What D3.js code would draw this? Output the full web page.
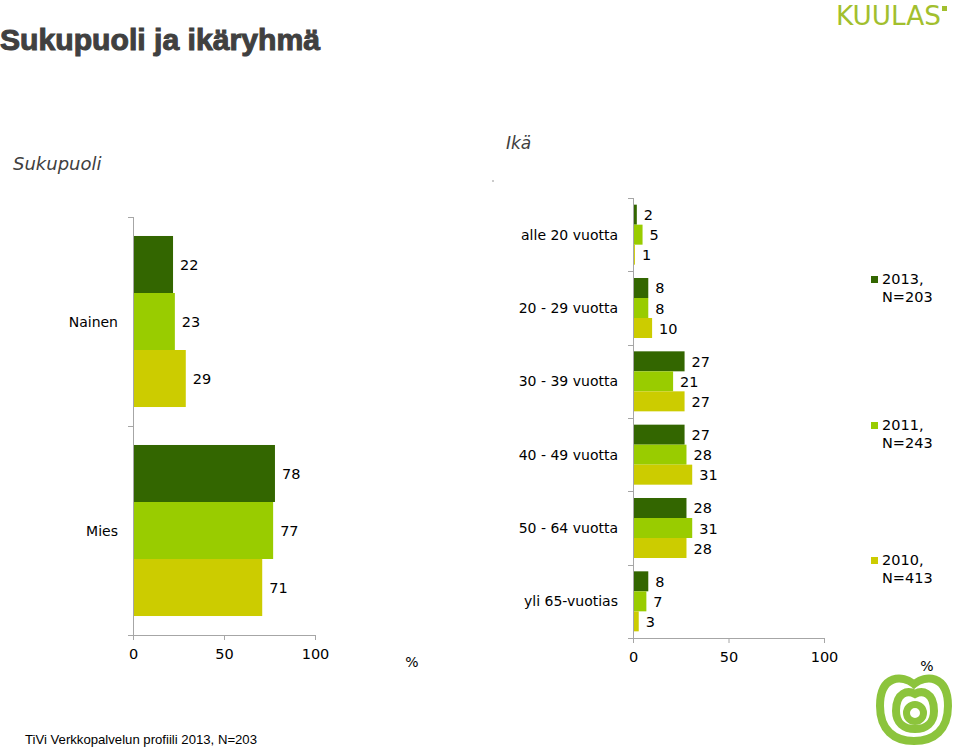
<!DOCTYPE html>
<html>
<head>
<meta charset="utf-8">
<script src="https://cdn.jsdelivr.net/npm/d3@7"></script>
<style>
  html, body { margin: 0; padding: 0; background: #fff; }
  svg { display: block; }
  text { font-family: "DejaVu Sans", Verdana, sans-serif; }
</style>
</head>
<body>
<div id="chart"></div>
<script>
// ---- data ----
const sexCategories = ["Nainen", "Mies"];
const ageCategories = ["alle 20 vuotta", "20 - 29 vuotta", "30 - 39 vuotta", "40 - 49 vuotta", "50 - 64 vuotta", "yli 65-vuotias"];
const seriesNames = ["2013, N=203", "2011, N=243", "2010, N=413"];
const seriesColors = ["#336600", "#99cc00", "#cccc00"];
const sex2013 = [22, 78];
const sex2011 = [23, 77];
const sex2010 = [29, 71];
const age2013 = [2, 8, 27, 27, 28, 8];
const age2011 = [5, 8, 21, 28, 31, 7];
const age2010 = [1, 10, 27, 31, 28, 3];
const xTickValues = [0, 50, 100];

const W = 960, H = 755;
const svg = d3.select("#chart").append("svg").attr("width", W).attr("height", H);

// ---- headings ----
svg.append("text").attr("x", 0).attr("y", 50)
  .style("font-family", "'Liberation Sans', Arial, sans-serif")
  .style("font-weight", "bold").style("font-size", "29px")
  .attr("fill", "#404040").attr("stroke", "#404040").attr("stroke-width", 1)
  .attr("textLength", 320).attr("lengthAdjust", "spacingAndGlyphs")
  .text("Sukupuoli ja ikäryhmä");

svg.append("text").attr("x", 13).attr("y", 170)
  .style("font-style", "italic").style("font-size", "18px").attr("fill", "#404040")
  .text("Sukupuoli");
svg.append("text").attr("x", 506).attr("y", 149)
  .style("font-style", "italic").style("font-size", "17px").attr("fill", "#404040")
  .text("Ikä");
svg.append("circle").attr("cx", 493).attr("cy", 181).attr("r", 0.8).attr("fill", "#888");

// KUULAS logo
svg.append("text").attr("x", 836).attr("y", 25)
  .style("font-family", "'DejaVu Sans', sans-serif").style("font-size", "26px")
  .attr("fill", "#a2bf2e").attr("textLength", 105).attr("lengthAdjust", "spacingAndGlyphs")
  .text("KUULAS");
svg.append("rect").attr("x", 942).attr("y", 6).attr("width", 5).attr("height", 5).attr("fill", "#a2bf2e");

// ---- chart builder ----
function drawChart(opts) {
  const { cats, series, xRange, yRange } = opts;
  const x = d3.scaleLinear().domain([0, 100]).range(xRange);
  const y = d3.scaleBand().domain(cats).range(yRange).padding(0);
  const yi = d3.scaleBand().domain(d3.range(series.length)).range([0, y.bandwidth()])
    .paddingInner(0).paddingOuter(0.333);
  const g = svg.append("g");

  cats.forEach((c, ci) => {
    series.forEach((vals, si) => {
      const v = vals[ci];
      const y0 = y(c) + yi(si);
      g.append("rect")
        .attr("x", x(0)).attr("y", y0)
        .attr("width", x(v) - x(0)).attr("height", yi.bandwidth())
        .attr("fill", seriesColors[si]);
      g.append("text")
        .attr("x", x(v) + 7).attr("y", y0 + yi.bandwidth() / 2 + 5.5)
        .style("font-size", "14.5px").attr("fill", "#000")
        .text(v);
    });
    g.append("text")
      .attr("x", x(0) - 15).attr("y", y(c) + y.bandwidth() / 2 + 5)
      .attr("text-anchor", "end").style("font-size", "14px").attr("fill", "#000")
      .text(c);
  });

  // vertical axis
  const axisColor = "#a6a6a6";
  g.append("line").attr("x1", x(0) + 0.5).attr("x2", x(0) + 0.5)
    .attr("y1", yRange[0]).attr("y2", yRange[1]).attr("stroke", axisColor);
  const bounds = cats.map(c => y(c)).concat([yRange[1]]);
  bounds.forEach(b => {
    g.append("line").attr("x1", x(0) - 5).attr("x2", x(0))
      .attr("y1", Math.round(b) + 0.5).attr("y2", Math.round(b) + 0.5).attr("stroke", axisColor);
  });

  // horizontal axis
  const ax = g.append("g").attr("transform", `translate(0,${yRange[1]})`)
    .call(d3.axisBottom(x).tickValues(xTickValues).tickSize(5).tickSizeOuter(0).tickPadding(9));
  ax.select(".domain").attr("stroke", axisColor);
  ax.selectAll(".tick line").attr("stroke", axisColor);
  ax.selectAll(".tick text").style("font-family", "'DejaVu Sans', Verdana, sans-serif")
    .style("font-size", "14.5px").attr("fill", "#000");
  return x;
}

drawChart({ cats: sexCategories, series: [sex2013, sex2011, sex2010], xRange: [133, 315], yRange: [217, 635] });
drawChart({ cats: ageCategories, series: [age2013, age2011, age2010], xRange: [633, 824], yRange: [198, 638] });

// % labels
svg.append("text").attr("x", 412).attr("y", 667).attr("text-anchor", "middle")
  .style("font-size", "14px").attr("fill", "#000").text("%");
svg.append("text").attr("x", 927).attr("y", 671).attr("text-anchor", "middle")
  .style("font-size", "14px").attr("fill", "#000").text("%");

// ---- legend ----
const legendY = [284, 430, 565];
seriesNames.forEach((name, i) => {
  const parts = name.split(", ");
  const lg = svg.append("g");
  lg.append("rect").attr("x", 871).attr("y", legendY[i] - 8).attr("width", 7).attr("height", 7)
    .attr("fill", seriesColors[i]);
  lg.append("text").attr("x", 882).attr("y", legendY[i])
    .style("font-size", "14.5px").attr("fill", "#000").text(parts[0] + ",");
  lg.append("text").attr("x", 882).attr("y", legendY[i] + 18)
    .style("font-size", "14.5px").attr("fill", "#000").text(parts[1]);
});

// ---- footer ----
svg.append("text").attr("x", 25).attr("y", 744)
  .style("font-family", "'Liberation Sans', Arial, sans-serif").style("font-size", "13px")
  .attr("fill", "#000").attr("textLength", 232).attr("lengthAdjust", "spacingAndGlyphs")
  .text("TiVi Verkkopalvelun profiili 2013, N=203");

// ---- apple logo ----
const logoColor = "#8cc43c";
const lg = svg.append("g").attr("fill", "none").attr("stroke", logoColor);
lg.append("path")
  .attr("d", "M914,684 C925,675 948,674 948,706 C948,730 934,741 914,741 C894,741 880,730 880,706 C880,674 903,675 914,684 Z")
  .attr("stroke-width", 8);
lg.append("path")
  .attr("d", "M915,694 C922,690 934,692 934,711 C934,723 926,729 915,729 C904,729 896,723 896,711 C896,692 908,690 915,694 Z")
  .attr("stroke-width", 8);
lg.append("circle").attr("cx", 915).attr("cy", 713).attr("r", 8.5).attr("stroke-width", 7);
</script>
</body>
</html>
